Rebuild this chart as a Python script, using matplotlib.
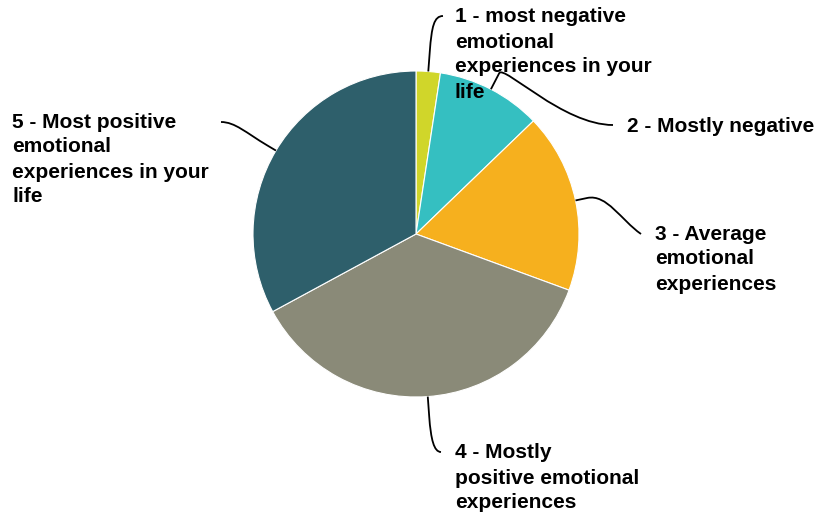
import numpy as np
import matplotlib
matplotlib.use("Agg")
import matplotlib.pyplot as plt
from matplotlib.path import Path
from matplotlib.patches import PathPatch

# Share of responses per rating (percent)
categories = [
    "1 - most negative\nemotional\nexperiences in your\nlife",
    "2 - Mostly negative",
    "3 - Average\nemotional\nexperiences",
    "4 - Mostly\npositive emotional\nexperiences",
    "5 - Most positive\nemotional\nexperiences in your\nlife",
]
values = [2.4, 10.4, 17.8, 36.5, 32.9]
colors = ["#d0d62a", "#35bfc1", "#f6b01e", "#8a8a78", "#2e5f6b"]

W, H = 816, 516
fig = plt.figure(figsize=(W / 100, H / 100), dpi=100)
ax = fig.add_axes([0, 0, 1, 1])

def Y(y):
    return H - y

cx, cy, R = 416, Y(234), 163
wedges, _ = ax.pie(values, colors=colors, startangle=90, counterclock=False,
                   center=(cx, cy), radius=R,
                   wedgeprops=dict(edgecolor="white", linewidth=0.8))
ax.set_xlim(0, W)
ax.set_ylim(0, H)
ax.set_aspect("equal")
ax.axis("off")

# label anchor (left x, first-line centre y) and leader geometry
label_pos = [(455, 15), (627, 124), (655, 232), (455, 451), (12, 120)]
leader_end = [(443, 16), (613, 125), (641, 234), (441, 452), (221, 122)]
leader_ctrl = [(20, 25, (-9, 0)), (18, 10, (-50, 0)), (12, 20, (-20, -14)),
               (20, 23, (-7, 0)), (10, 25, (14, 0))]

font = dict(family=["Liberation Sans", "DejaVu Sans"], weight="bold",
            fontsize=15, color="black")
line_gap = 25

for w, lab, (lx, ly), (ex, ey), (a, b, off) in zip(
        wedges, categories, label_pos, leader_end, leader_ctrl):
    mid = np.deg2rad((w.theta1 + w.theta2) / 2)
    u = np.array([np.cos(mid), np.sin(mid)])
    p0 = np.array([cx, cy]) + R * u
    p1 = p0 + u * a
    c1 = p1 + u * b
    p3 = np.array([ex, Y(ey)])
    c2 = p3 + np.array([off[0], -off[1]])
    path = Path([p0, p1, c1, c2, p3],
                [Path.MOVETO, Path.LINETO, Path.CURVE4, Path.CURVE4, Path.CURVE4])
    ax.add_patch(PathPatch(path, facecolor="none", edgecolor="black", lw=1.3))
    for i, line in enumerate(lab.split("\n")):
        ax.text(lx, Y(ly + i * line_gap), line, ha="left",
                va="center_baseline", **font)

fig.savefig("out.png", dpi=100)
